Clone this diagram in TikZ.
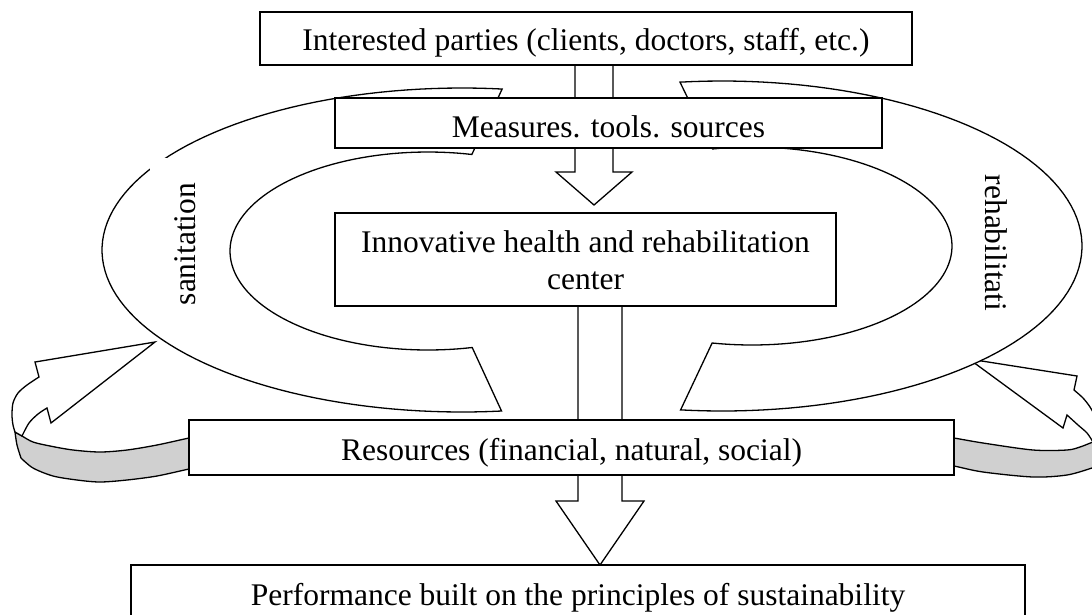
\documentclass[tikz,border=0pt]{standalone}
\usepackage{fontspec}
\setmainfont{Liberation Serif}
\definecolor{band}{RGB}{208,208,208}
\begin{document}
\begin{tikzpicture}[x=1pt,y=-1pt,
  shp/.style={draw=black, line width=1.3pt, fill=white, line join=miter},
  ribbon/.style={draw=black, line width=1.3pt, fill=band},
  box/.style={draw=black, line width=1.8pt, fill=white, inner sep=0pt, text depth=0pt, font=\fontsize{31.5}{37}\selectfont},
  side/.style={inner sep=0pt, font=\fontsize{31.5}{37}\selectfont}]
\useasboundingbox (0,0) rectangle (1092,614);
\clip (0,0) rectangle (1092,614);
% left curved arrow
\filldraw[ribbon] plot[smooth] coordinates {(15,432) (17,445) (21,458)} -- plot[smooth] coordinates {(21,458) (33,468) (53,476) (77,480) (100,482) (127,480) (157,476) (189,469) (205,466)} -- (205,435) -- plot[smooth] coordinates {(205,435) (189,438) (157,445) (127,450) (100,452) (73,450) (50,446) (33,442) (22,436) (15,432)} -- cycle;
\filldraw[shp] (155,342) -- (35,362) -- (39,377) -- plot[smooth] coordinates {(39,377) (27,385) (18,393) (13,403) (12,415) (13,425) (15,432)} -- (22,436) -- plot[smooth] coordinates {(22,436) (29,423) (38,414) (47,408)} -- (51,423) -- cycle;
% right curved arrow
\filldraw[ribbon] plot[smooth] coordinates {(1100,440) (1099,453) (1097,466)} -- plot[smooth] coordinates {(1097,466) (1092,468) (1067,475) (1033,477) (983,472) (954,466) (940,464)} -- (940,436) -- plot[smooth] coordinates {(940,436) (954,438) (983,443) (1033,450) (1067,450) (1080,447) (1093,442) (1100,440)} -- cycle;
\filldraw[shp] (969,359) -- (1077,376) -- (1074,390) -- plot[smooth] coordinates {(1074,390) (1083,398) (1090,407) (1096,418) (1099,430) (1100,440)} -- (1093,442) -- plot[smooth] coordinates {(1093,442) (1087,433) (1078,425) (1067,415)} -- (1063,428) -- cycle;
% crescents
\filldraw[shp] plot[domain=0:1, samples=90] ({462+360*cos(83.6+192.8*\x)}, {250-162*sin(83.6+192.8*\x)}) -- plot[domain=0:1, samples=90] ({428+198*cos(282.9-205.8*\x)}, {251-99*sin(282.9-205.8*\x)}) -- cycle;
\filldraw[shp] plot[domain=0:1, samples=90] ({722+360*cos(96.7-193.4*\x)}, {246-165*sin(96.7-193.4*\x)}) -- plot[domain=0:1, samples=90] ({752+200*cos(-101.5+203*\x)}, {246-99*sin(-101.5+203*\x)}) -- cycle;
% block arrows
\coordinate (tipA) at (594,205);
\coordinate (tipB) at (600,565);
\filldraw[shp] (575,60) -- (575,172) -- (556,172) -- (tipA) -- (632,172) -- (613,172) -- (613,60) -- cycle;
\filldraw[shp] (578,300) -- (578,501) -- (556,501) -- (tipB) -- (644,501) -- (622,501) -- (622,300) -- cycle;
% boxes
\node[box, minimum width=652pt, minimum height=53pt, text height=23pt] (parties) at (586,38.5) {Interested parties (clients, doctors, staff, etc.)};
\node[box, minimum width=547pt, minimum height=50pt, text height=28pt] (measures) at (608.5,123) {Measures. tools. sources};
\node[box, minimum width=501pt, minimum height=93pt, align=center, text height=59pt] (centre) at (585.5,259.5) {Innovative health and rehabilitation\\center};
\node[box, minimum width=765pt, minimum height=55pt, text height=25pt] (resources) at (571.5,447.5) {Resources (financial, natural, social)};
\node[box, minimum width=894pt, minimum height=60pt, text height=20pt] (performance) at (578,595) {Performance built on the principles of sustainability};
% side labels
\node[side, rotate=90, fill=white, minimum width=172pt, minimum height=70pt] (sanit) at (185,244) {sanitation};
\node[side, rotate=-90] (rehab) at (996,243) {rehabilitati};
\end{tikzpicture}
\end{document}
